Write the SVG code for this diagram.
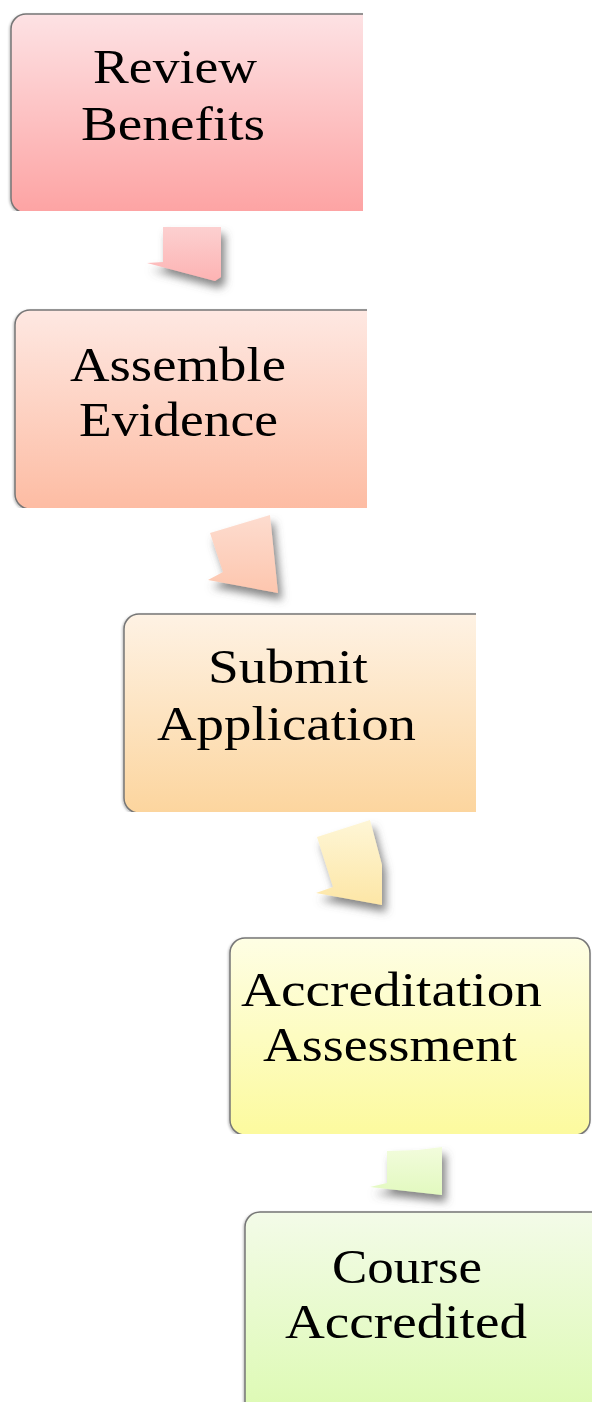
<svg xmlns="http://www.w3.org/2000/svg" width="592" height="1402" viewBox="0 0 592 1402">
<defs>
<linearGradient id="g1" x1="0" y1="0" x2="0" y2="1"><stop offset="0" stop-color="#fde2e4"/><stop offset="1" stop-color="#fda3a3"/></linearGradient>
<linearGradient id="g2" x1="0" y1="0" x2="0" y2="1"><stop offset="0" stop-color="#fee8e2"/><stop offset="1" stop-color="#fdbca3"/></linearGradient>
<linearGradient id="g3" x1="0" y1="0" x2="0" y2="1"><stop offset="0" stop-color="#fef2e4"/><stop offset="1" stop-color="#fcd59e"/></linearGradient>
<linearGradient id="g4" x1="0" y1="0" x2="0" y2="1"><stop offset="0" stop-color="#fefee4"/><stop offset="1" stop-color="#fcfa9e"/></linearGradient>
<linearGradient id="g5" x1="0" y1="0" x2="0" y2="1"><stop offset="0" stop-color="#f3fbe8"/><stop offset="1" stop-color="#dbfaae"/></linearGradient>
<linearGradient id="a1" x1="0" y1="0" x2="0" y2="1"><stop offset="0" stop-color="#fcd0d0"/><stop offset="1" stop-color="#fdb3b3"/></linearGradient>
<linearGradient id="a2" x1="0" y1="0" x2="0" y2="1"><stop offset="0" stop-color="#fddccf"/><stop offset="1" stop-color="#fdc6ae"/></linearGradient>
<linearGradient id="a3" x1="0" y1="0" x2="0" y2="1"><stop offset="0" stop-color="#fef6d6"/><stop offset="1" stop-color="#fde6a6"/></linearGradient>
<linearGradient id="a4" x1="0" y1="0" x2="0" y2="1"><stop offset="0" stop-color="#f2fcdc"/><stop offset="1" stop-color="#e2f9bf"/></linearGradient>
<filter id="sh" x="-30%" y="-30%" width="170%" height="180%"><feDropShadow dx="4" dy="7" stdDeviation="4" flood-color="#555" flood-opacity="0.7"/></filter>
<filter id="bsh" x="-5%" y="-5%" width="110%" height="110%"><feDropShadow dx="-1" dy="1" stdDeviation="1" flood-color="#000" flood-opacity="0.25"/></filter>
<clipPath id="c1"><rect x="0" y="0" width="363" height="211"/></clipPath>
<clipPath id="c2"><rect x="0" y="300" width="367" height="208"/></clipPath>
<clipPath id="c3"><rect x="100" y="600" width="376" height="212"/></clipPath>
<clipPath id="c4"><rect x="200" y="920" width="392" height="214"/></clipPath>
<clipPath id="c5"><rect x="220" y="1200" width="372" height="202"/></clipPath>
</defs>
<style>
.box{stroke:#767676;stroke-width:1.5}
.t{font-family:"Liberation Serif","Times New Roman",serif;font-size:48px;fill:#000}
</style>
<g id="connectors">
<polygon filter="url(#sh)" fill="url(#a1)" points="163,227 221,227 221,277 215,281 147,263 163,262"/>
<polygon filter="url(#sh)" fill="url(#a2)" points="210,533 270,515 278,593 208,580 223,572"/>
<polygon filter="url(#sh)" fill="url(#a3)" points="317,837 370,820 382,865 382,905 316,893 333,887"/>
<polygon filter="url(#sh)" fill="url(#a4)" points="387,1151 418,1150 442,1147 442,1195 370,1187 387,1183"/>
</g>
<g id="n1" clip-path="url(#c1)">
<rect class="box" filter="url(#bsh)" x="11" y="14" width="370" height="199" rx="15" fill="url(#g1)"/>
<text class="t" x="93" y="83" textLength="164" lengthAdjust="spacingAndGlyphs">Review</text>
<text class="t" x="81" y="140" textLength="184" lengthAdjust="spacingAndGlyphs">Benefits</text>
</g>
<g id="n2" clip-path="url(#c2)">
<rect class="box" filter="url(#bsh)" x="15" y="310" width="370" height="199" rx="15" fill="url(#g2)"/>
<text class="t" x="70" y="381" textLength="216" lengthAdjust="spacingAndGlyphs">Assemble</text>
<text class="t" x="79" y="436" textLength="199" lengthAdjust="spacingAndGlyphs">Evidence</text>
</g>
<g id="n3" clip-path="url(#c3)">
<rect class="box" filter="url(#bsh)" x="124" y="614" width="370" height="199" rx="15" fill="url(#g3)"/>
<text class="t" x="208" y="683" textLength="160" lengthAdjust="spacingAndGlyphs">Submit</text>
<text class="t" x="157" y="740" textLength="259" lengthAdjust="spacingAndGlyphs">Application</text>
</g>
<g id="n4" clip-path="url(#c4)">
<rect class="box" filter="url(#bsh)" x="230" y="938" width="360" height="197" rx="15" fill="url(#g4)"/>
<text class="t" x="241" y="1006" textLength="301" lengthAdjust="spacingAndGlyphs">Accreditation</text>
<text class="t" x="263" y="1061" textLength="254" lengthAdjust="spacingAndGlyphs">Assessment</text>
</g>
<g id="n5" clip-path="url(#c5)">
<rect class="box" filter="url(#bsh)" x="245" y="1212" width="370" height="220" rx="15" fill="url(#g5)"/>
<text class="t" x="332" y="1283" textLength="150" lengthAdjust="spacingAndGlyphs">Course</text>
<text class="t" x="285" y="1338" textLength="242" lengthAdjust="spacingAndGlyphs">Accredited</text>
</g>
</svg>
